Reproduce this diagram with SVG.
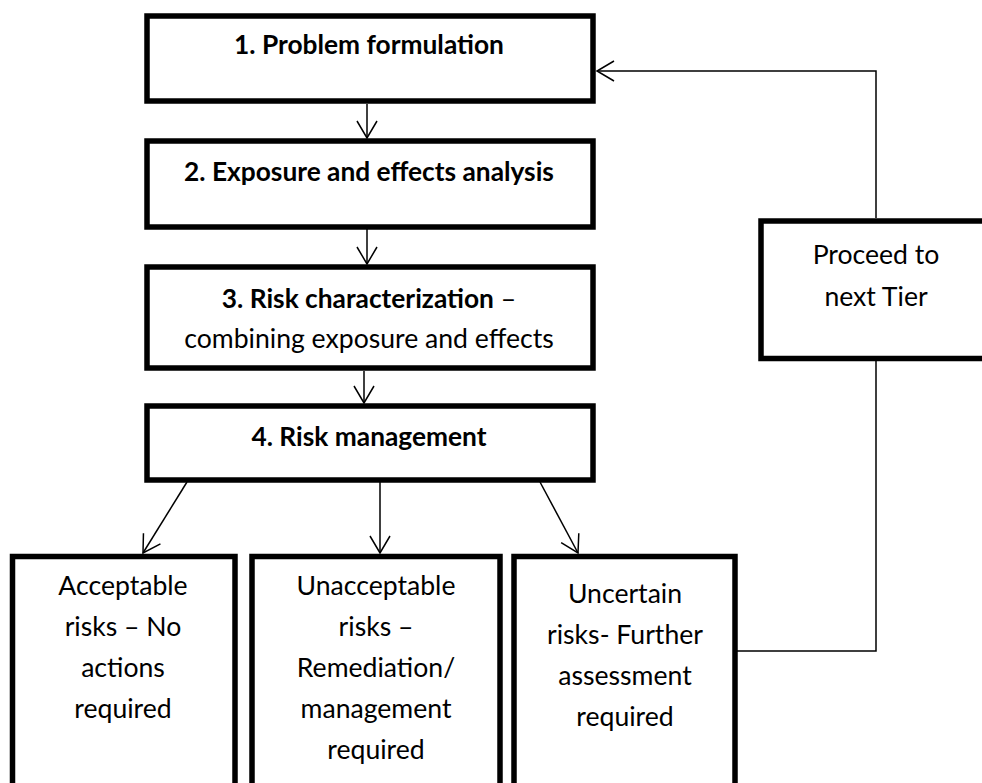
<svg xmlns="http://www.w3.org/2000/svg" width="982" height="783" viewBox="0 0 982 783">
<defs>
<style>
.box{fill:#fff;stroke:#000;stroke-width:5.5}
.t{font-family:Lato,"Open Sans","Liberation Sans",sans-serif;font-size:26.6px;fill:#000;text-anchor:middle}
.b{font-weight:bold;font-size:26.3px}
.c{fill:none;stroke:#000;stroke-width:1.5}
</style>
<marker id="ah" markerUnits="userSpaceOnUse" markerWidth="40" markerHeight="40" viewBox="-20 -20 40 40" refX="0" refY="0" orient="auto" overflow="visible">
<path d="M-17,-10 L0,0 L-17,10" fill="none" stroke="#000" stroke-width="1.5"/>
</marker>
</defs>
<rect width="982" height="783" fill="#fff"/>
<g id="connectors">
<line class="c" x1="367" y1="104" x2="367" y2="138" marker-end="url(#ah)"/>
<line class="c" x1="367" y1="229" x2="367" y2="264" marker-end="url(#ah)"/>
<line class="c" x1="364" y1="371" x2="364" y2="403" marker-end="url(#ah)"/>
<line class="c" x1="187" y1="482" x2="143" y2="553" marker-end="url(#ah)"/>
<line class="c" x1="380" y1="482" x2="380" y2="553" marker-end="url(#ah)"/>
<line class="c" x1="540" y1="482" x2="578" y2="553" marker-end="url(#ah)"/>
<polyline class="c" points="876,218 876,71 597,71" marker-end="url(#ah)"/>
<polyline class="c" points="876,361 876,651 737,651"/>
</g>
<g id="n1">
<rect class="box" x="147" y="16" width="446" height="85"/>
<text class="t b" x="369" y="54">1. Problem formulation</text>
</g>
<g id="n2">
<rect class="box" x="147" y="141" width="446" height="86"/>
<text class="t b" x="369" y="181">2. Exposure and effects analysis</text>
</g>
<g id="n3">
<rect class="box" x="147" y="267" width="446" height="101"/>
<text class="t" x="369" y="308"><tspan class="b">3. Risk characterization</tspan> –</text>
<text class="t" x="369" y="348">combining exposure and effects</text>
</g>
<g id="n4">
<rect class="box" x="147" y="406" width="446" height="74"/>
<text class="t b" x="369" y="446">4. Risk management</text>
</g>
<g id="n5">
<rect class="box" x="12.5" y="556.5" width="222.5" height="260"/>
<text class="t" x="123" y="595">Acceptable</text>
<text class="t" x="123" y="636">risks – No</text>
<text class="t" x="123" y="677">actions</text>
<text class="t" x="123" y="718">required</text>
</g>
<g id="n6">
<rect class="box" x="252" y="556.5" width="248" height="260"/>
<text class="t" x="376" y="595">Unacceptable</text>
<text class="t" x="376" y="636">risks –</text>
<text class="t" x="376" y="677">Remediation/</text>
<text class="t" x="376" y="718">management</text>
<text class="t" x="376" y="759">required</text>
</g>
<g id="n7">
<rect class="box" x="514" y="556.5" width="221" height="260"/>
<text class="t" x="625" y="603">Uncertain</text>
<text class="t" x="625" y="644">risks- Further</text>
<text class="t" x="625" y="685">assessment</text>
<text class="t" x="625" y="726">required</text>
</g>
<g id="n8">
<rect class="box" x="761" y="221" width="260" height="137.5"/>
<text class="t" x="876" y="264">Proceed to</text>
<text class="t" x="876" y="306">next Tier</text>
</g>
</svg>
